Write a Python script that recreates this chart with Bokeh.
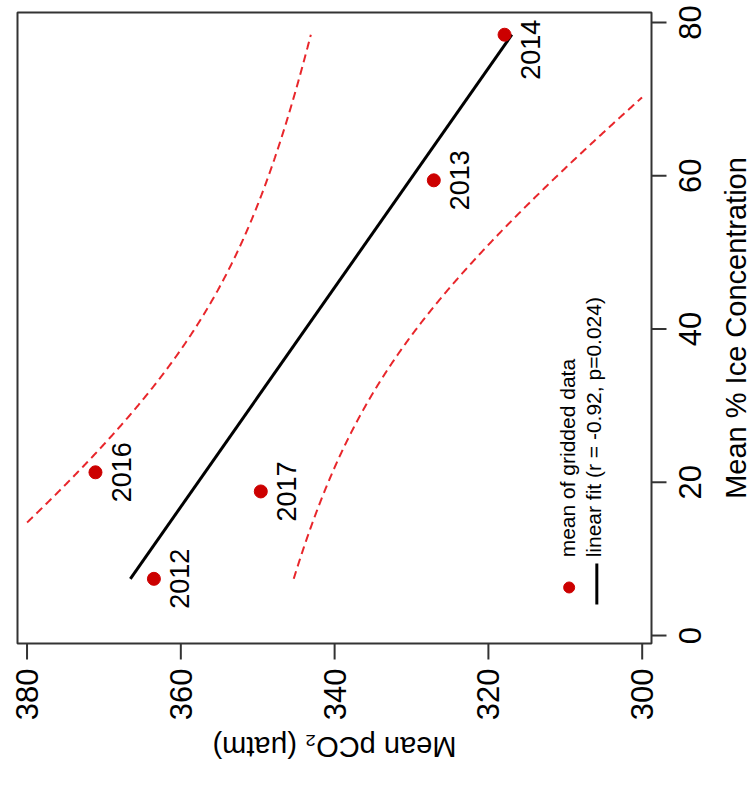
import math
import numpy as np
from bokeh.plotting import figure
from bokeh.models import Range1d, ColumnDataSource
from bokeh.embed import file_html
from bokeh.resources import INLINE
from bokeh.core.properties import value

# ---- data ----
years = ["2012", "2013", "2014", "2016", "2017"]
ice_conc = [7.4, 59.4, 78.4, 21.3, 18.8]          # Mean % Ice Concentration
pco2 = [363.5, 327.1, 317.9, 371.1, 349.6]         # Mean pCO2 (uatm)
pco2_ticks = [300, 320, 340, 360, 380]
ice_ticks = [0, 20, 40, 60, 80]
legend_labels = ["mean of gridded data", "linear fit (r = -0.92, p=0.024)"]
x_title = "Mean pCO\u2082 (\u03bcatm)"
y_title = "Mean % Ice Concentration"

# ---- layout / style ----
label_dy = [0, 0, 15, 0, 0]       # pixel nudges of the year labels
FONT = "Liberation Sans"
PT_COLOR = "#CC0000"
CI_COLOR = "#E8262B"
AX_COLOR = "#333333"
W, H = 752, 794
BOX_L, BOX_T, BOX_R, BOX_B = 17, 12, 651, 643       # plot box in pixels
X0, X1 = 381.24, 298.79                              # data at box left / right
Y0, Y1 = -1.04, 81.3                                 # data at box bottom / top
XPP = (X0 - X1) / (BOX_R - BOX_L)                    # data per pixel (x decreases to the right)
YPP = (Y1 - Y0) / (BOX_B - BOX_T)
CX0 = X0 + BOX_L * XPP
CX1 = X1 - (W - BOX_R) * XPP
CY1 = Y1 + BOX_T * YPP
CY0 = Y0 - (H - BOX_B) * YPP

# ---- linear fit of pCO2 on ice concentration, with 95% confidence band ----
xi = np.array(ice_conc)
yi = np.array(pco2)
n = len(xi)
slope, intercept = np.polyfit(xi, yi, 1)
resid = yi - (intercept + slope * xi)
s = np.sqrt(np.sum(resid ** 2) / (n - 2))
sxx = np.sum((xi - xi.mean()) ** 2)
t975 = 3.182446  # t quantile, 3 degrees of freedom
grid = np.linspace(xi.min(), xi.max(), 600)
fit = intercept + slope * grid
se = s * np.sqrt(1.0 / n + (grid - xi.mean()) ** 2 / sxx)
lo_lim, hi_lim = min(pco2_ticks), max(pco2_ticks)
upper = fit + t975 * se
lower = fit - t975 * se
upper = np.where((upper >= lo_lim) & (upper <= hi_lim), upper, np.nan)
lower = np.where((lower >= lo_lim) & (lower <= hi_lim), lower, np.nan)

p = figure(width=W, height=H,
           x_range=Range1d(CX0, CX1), y_range=Range1d(CY0, CY1),
           output_backend="svg", toolbar_location=None,
           x_axis_location=None, y_axis_location=None,
           min_border=0)
p.background_fill_color = "white"
p.border_fill_color = "white"
p.outline_line_color = None
for g in p.grid:
    g.visible = False

# plot box
p.quad(left=[X0], right=[X1], bottom=[Y0], top=[Y1],
       fill_color=None, line_color=AX_COLOR, line_width=2)

# ticks
p.segment(x0=pco2_ticks, x1=pco2_ticks, y0=[Y0] * len(pco2_ticks),
          y1=[Y0 - 16 * YPP] * len(pco2_ticks), line_color=AX_COLOR, line_width=2)
p.segment(x0=[X1] * len(ice_ticks), x1=[X1 - 15 * XPP] * len(ice_ticks),
          y0=ice_ticks, y1=ice_ticks, line_color=AX_COLOR, line_width=2)

# rotated tick labels
p.text(x=pco2_ticks, y=[Y0 - 25 * YPP] * len(pco2_ticks), text=[str(t) for t in pco2_ticks],
       angle=math.pi / 2, text_align="right", text_baseline="middle",
       text_font=value(FONT), text_font_size="31px", text_color="black")
p.text(x=[X1 - 38 * XPP] * len(ice_ticks), y=ice_ticks, text=[str(t) for t in ice_ticks],
       angle=math.pi / 2, text_align="center", text_baseline="middle",
       text_font=value(FONT), text_font_size="31px", text_color="black")

# axis titles
p.text(x=[(X0 + X1) / 2], y=[Y0 - 103 * YPP], text=[x_title], angle=math.pi,
       text_align="center", text_baseline="middle",
       text_font=value(FONT), text_font_size="29px", text_color="black")
p.text(x=[X1 - 84 * XPP], y=[(Y0 + Y1) / 2], text=[y_title], angle=math.pi / 2,
       text_align="center", text_baseline="middle",
       text_font=value(FONT), text_font_size="29px", text_color="black")

# confidence band
p.line(upper, grid, line_color=CI_COLOR, line_width=2, line_dash="8 5")
p.line(lower, grid, line_color=CI_COLOR, line_width=2, line_dash="8 5")

# fit line
gx = [xi.min(), xi.max()]
p.line([intercept + slope * v for v in gx], gx, line_color="black", line_width=3)

# points + year labels
src = ColumnDataSource(dict(x=pco2, y=ice_conc, t=years, dy=label_dy))
p.scatter("x", "y", source=src, size=13, fill_color=PT_COLOR, line_color=PT_COLOR)
p.text("x", "y", text="t", source=src, angle=math.pi / 2, x_offset=26, y_offset="dy",
       text_align="center", text_baseline="middle",
       text_font=value(FONT), text_font_size="27px", text_color="black")

# rotated legend (drawn manually, in data units)
p.scatter([309.5], [6.27], size=11, fill_color=PT_COLOR, line_color=PT_COLOR)
p.line([305.9, 305.9], [4.05, 9.4], line_color="black", line_width=3)
p.text([309.65, 306.33], [10.2, 10.2], text=legend_labels, angle=math.pi / 2,
       text_align="left", text_baseline="middle",
       text_font=value(FONT), text_font_size="21px", text_color="black")

open("out.html", "w").write(file_html(p, INLINE))
